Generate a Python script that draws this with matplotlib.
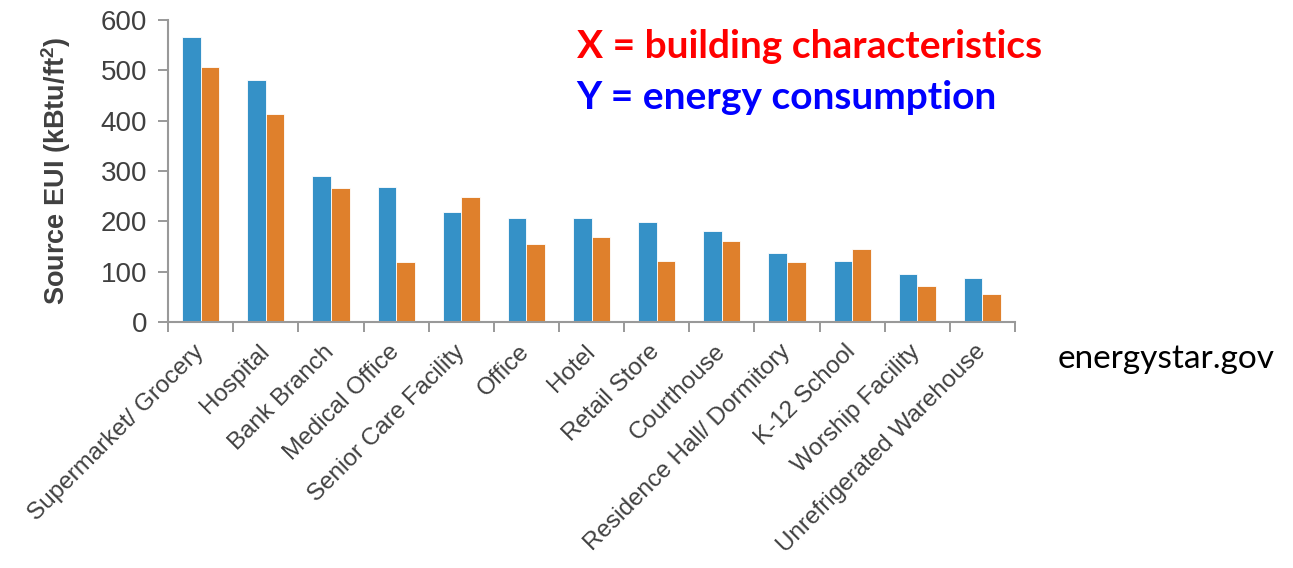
import matplotlib
matplotlib.use('Agg')
import matplotlib.pyplot as plt
import numpy as np

# 建築類型與兩組 Source EUI (kBtu/ft²)
categories = ['Supermarket/ Grocery', 'Hospital', 'Bank Branch', 'Medical Office',
              'Senior Care Facility', 'Office', 'Hotel', 'Retail Store', 'Courthouse',
              'Residence Hall/ Dormitory', 'K-12 School', 'Worship Facility',
              'Unrefrigerated Warehouse']
eui_blue = [566, 481, 291, 268, 219, 207, 207, 198, 181, 138, 122, 96, 88]
eui_orange = [506, 413, 267, 120, 248, 154, 169, 122, 160, 120, 145, 72, 56]

plt.rcParams['font.family'] = ['Liberation Sans', 'DejaVu Sans']

fig = plt.figure(figsize=(12.93, 5.68), dpi=100)
ax = fig.add_axes([0.130, 0.433, 0.655, 0.532])

x = np.arange(len(categories))
w = 0.285
ax.bar(x - w / 2, eui_blue, w, color='#3591C7', edgecolor='white', linewidth=0.6)
ax.bar(x + w / 2, eui_orange, w, color='#DF802C', edgecolor='white', linewidth=0.6)

ax.set_xlim(-0.5, len(categories) - 0.5)
ax.set_ylim(0, 600)
ax.set_yticks(range(0, 601, 100))

# x 軸刻度在類別邊界，標籤在中心
ax.set_xticks(np.arange(-0.5, len(categories)), minor=False)
ax.set_xticklabels([])
ax.set_xticks(x, minor=True)
ax.set_xticklabels(categories, minor=True, rotation=45, ha='right', va='center',
                   rotation_mode='anchor', fontsize=17.5, color='#404040')
ax.tick_params(axis='x', which='minor', length=0, pad=19)
ax.tick_params(axis='x', which='major', length=7, width=1.2, color='#888888', direction='out')
ax.tick_params(axis='y', length=7, width=1.2, color='#888888', labelsize=20,
               labelcolor='#404040', pad=8)

for s in ['top', 'right']:
    ax.spines[s].set_visible(False)
for s in ['left', 'bottom']:
    ax.spines[s].set_color('#999999')
    ax.spines[s].set_linewidth(1.5)

ax.set_ylabel('Source EUI (kBtu/ft$^\\mathregular{2}$)', fontsize=19.5, fontweight='bold',
              color='#404040', labelpad=20)

fig.text(0.446, 0.918, 'X = building characteristics', color='#FF0000', fontsize=28,
         fontweight='bold', family=['Lato', 'DejaVu Sans'], va='center')
fig.text(0.446, 0.828, 'Y = energy consumption', color='#0000FF', fontsize=28,
         fontweight='bold', family=['Lato', 'DejaVu Sans'], va='center')
fig.text(0.818, 0.368, 'energystar.gov', color='black', fontsize=24,
         family=['Lato', 'DejaVu Sans'], va='center')

fig.savefig('out.png', dpi=100)
